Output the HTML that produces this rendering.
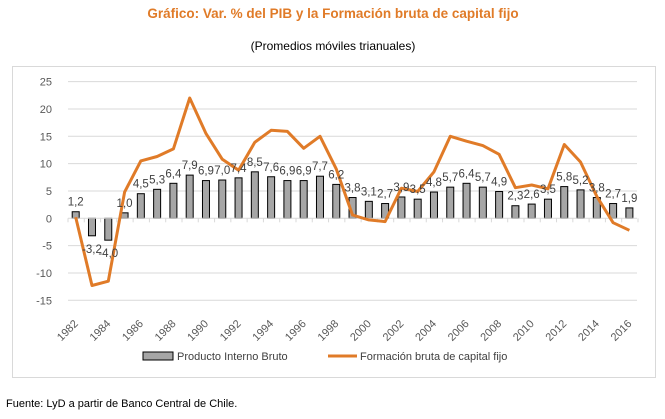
<!DOCTYPE html>
<html><head><meta charset="utf-8">
<style>
html,body{margin:0;padding:0;background:#fff;}
body{width:665px;height:414px;overflow:hidden;font-family:"Liberation Sans","DejaVu Sans",sans-serif;}
svg text{font-family:"Liberation Sans","DejaVu Sans",sans-serif;}
</style></head><body>
<svg id="s" width="665" height="414" xmlns="http://www.w3.org/2000/svg">
<text x="333" y="18" text-anchor="middle" font-size="13.5" font-weight="bold" fill="#E07B28">Gráfico: Var. % del PIB y la Formación bruta de capital fijo</text>
<text x="333" y="50" text-anchor="middle" font-size="12" fill="#000">(Promedios móviles trianuales)</text>
<rect x="12.5" y="66.5" width="643" height="311" fill="none" stroke="#d9d9d9"/>
<g id="g"></g>
<rect x="143" y="352" width="30" height="8" fill="#a6a6a6" stroke="#000" stroke-width="1"/>
<text x="177" y="360" font-size="11" fill="#404040">Producto Interno Bruto</text>
<line x1="328" y1="356" x2="357" y2="356" stroke="#E07B28" stroke-width="3"/>
<text x="360" y="360" font-size="11" fill="#404040">Formación bruta de capital fijo</text>
<text x="6" y="407" font-size="11" fill="#000">Fuente: LyD a partir de Banco Central de Chile.</text>
</svg>
<script>
(function(){
var g=document.getElementById('g');var NS='http://www.w3.org/2000/svg';
function el(t,a,txt){var e=document.createElementNS(NS,t);for(var k in a)e.setAttribute(k,a[k]);if(txt!==undefined)e.textContent=txt;g.appendChild(e);return e;}
var y0=218.3,sc=5.467;function Y(v){return y0-v*sc;}
var x0=75.7,dx=16.285;function X(i){return x0+i*dx;}
for(var v=-15;v<=25;v+=5){if(v!==0)el('line',{x1:68,x2:637,y1:Y(v),y2:Y(v),stroke:'#d9d9d9','stroke-width':1});
el('text',{x:52,y:Y(v)+4,'text-anchor':'end','font-size':11,fill:'#595959'},v);}
var pib=[1.2,-3.2,-4.0,1.0,4.5,5.3,6.4,7.9,6.9,7.0,7.4,8.5,7.6,6.9,6.9,7.7,6.2,3.8,3.1,2.7,3.9,3.5,4.8,5.7,6.4,5.7,4.9,2.3,2.6,3.5,5.8,5.2,3.8,2.7,1.9];
var fb=[0.2,-12.3,-11.5,4.8,10.5,11.3,12.7,22,15.5,10.8,8.8,13.9,16.1,15.9,12.8,15,9,0.6,-0.3,-0.6,5.5,4.9,8.5,15,14.1,13.3,11.7,5.6,6.1,5.4,13.5,10.3,4,-0.8,-2.2];
for(var i=0;i<pib.length;i++){var v=pib[i];var ty=Math.min(Y(v),y0),h=Math.abs(v*sc);
el('rect',{x:X(i)-3.5,y:ty,width:7,height:h,fill:'#a6a6a6',stroke:'#000','stroke-width':1});}
el('line',{x1:68,x2:637,y1:y0,y2:y0,stroke:'#d9d9d9'});
for(var i=0;i<=35;i++){var tx=68+i*dx;el('line',{x1:tx,x2:tx,y1:y0,y2:y0+4,stroke:'#d9d9d9'});}
var d='';for(var i=0;i<fb.length;i++)d+=(i?'L':'M')+X(i).toFixed(1)+' '+Y(fb[i]).toFixed(1);
el('path',{d:d,fill:'none',stroke:'#E07B28','stroke-width':3,'stroke-linejoin':'round'});
for(var i=0;i<pib.length;i++){var v=pib[i];var ly=v>=0?Y(v)-6:Y(v)+17;
el('text',{x:X(i),y:ly,'text-anchor':'middle','font-size':11.5,fill:'#404040'},v.toFixed(1).replace('.',','));}
for(var i=0;i<pib.length;i+=2){var tx=X(i)+3,ty=y0+106;
el('text',{x:tx,y:ty,'text-anchor':'end','font-size':11,fill:'#595959',transform:'rotate(-45 '+tx+' '+ty+')'},1982+i);}
})();
</script>
</body></html>
